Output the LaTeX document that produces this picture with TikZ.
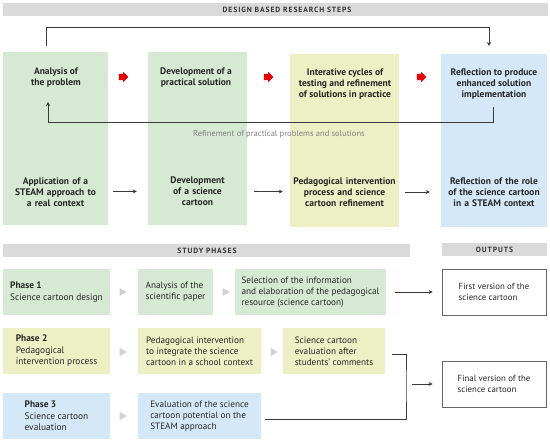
\documentclass[tikz,border=0pt]{standalone}
\usepackage{fontspec}
\setmainfont{PT Sans}
\usetikzlibrary{positioning,arrows.meta,shapes.arrows,shapes.geometric}
\definecolor{cgreen}{HTML}{D6EAD3}
\definecolor{cyellow}{HTML}{EDF0C4}
\definecolor{cblue}{HTML}{D5E8F8}
\definecolor{cbar}{HTML}{DADADA}
\definecolor{cline}{HTML}{3A3A3A}

\begin{document}
\begin{tikzpicture}[x=1pt, y=-1pt,
  bar/.style={fill=cbar, inner sep=0, minimum height=13},
  bartext/.style={inner sep=0, font=\fontsize{7.6}{8}\selectfont\bfseries\addfontfeatures{LetterSpace=12}\color{black!80}},
  col/.style={inner sep=0, minimum width=#1, minimum height=173},
  head/.style={align=center, inner sep=0, font=\fontsize{9.5}{11}\selectfont\bfseries\color{black!85}},
  redarrow/.style={single arrow, fill=red!90!black, draw=none, inner sep=3pt, minimum height=9, single arrow head extend=2pt},
  phase/.style={inner sep=0, minimum height=46, minimum width=#1, align=left, font=\fontsize{9.4}{11.5}\selectfont\color{black!85}},
  step/.style={inner sep=0, minimum height=46, minimum width=#1, align=left, font=\fontsize{9.2}{11}\selectfont\color{black!85}},
  output/.style={draw=black!60, line width=0.9pt, fill=white, inner sep=0, minimum height=46, minimum width=104, align=left, font=\fontsize{8.8}{11}\selectfont\color{black!85}},
  tri/.style={isosceles triangle, fill=black!18, inner sep=0, minimum height=7, minimum width=8, isosceles triangle stretches},
  line/.style={draw=cline, line width=0.8pt},
  arr/.style={line, -{Stealth[length=4pt, width=4pt]}}
]
\useasboundingbox (0,0) rectangle (550,443);

% design based research steps
\node[bar, minimum width=545] (bar1) at (275.5,10) {};
\node[bartext] (bar1t) at (287,10) {DESIGN BASED RESEARCH STEPS};

\node[col=105, fill=cgreen] (c1) at (55.5,138.5) {};
\node[col=99, fill=cgreen] (c2) at (197.5,138.5) {};
\node[col=109, fill=cyellow] (c3) at (344.5,140.5) {};
\node[col=106, fill=cblue] (c4) at (494,140.5) {};

\node[head] (h1) at (56,77.5) {Analysis of\\the problem};
\node[head] (h2) at (196,77.5) {Development of a\\practical solution};
\node[head] (h3) at (345,84) {Interative cycles of\\testing and refinement\\of solutions in practice};
\node[head] (h4) at (494,84) {Reflection to produce\\enhanced solution\\implementation};

\node[redarrow] (r1) at (122,77) {};
\node[redarrow] (r2) at (267,77) {};
\node[redarrow] (r3) at (420,77) {};

\coordinate (topL) at (46,46);
\coordinate (topR) at (489,46);
\draw[arr] (topL) -- (46,27) -| (topR);

\coordinate (fbR) at (493,107);
\coordinate (fbL) at (48,102);
\draw[arr] (fbR) -- ++(0,15) -| (fbL);
\node[font=\fontsize{8.5}{10}\selectfont, text=black!50] (fbt) at (279,134) {Refinement of practical problems and solutions};

\node[head, text width=105] (b1) at (55.5,192) {Application of a\\STEAM approach to\\a real context};
\node[head, text width=99] (b2) at (197.5,191) {Development\\of a science\\cartoon};
\node[head, text width=109] (b3) at (344.5,192) {Pedagogical intervention\\process and science\\cartoon refinement};
\node[head, text width=106] (b4) at (494,192) {Reflection of the role\\of the science cartoon\\in a STEAM context};
\draw[arr, shorten <=5pt, shorten >=11pt] (b1) -- (b2);
\draw[arr, shorten <=7pt, shorten >=7pt] (b2) -- (b3);
\draw[arr, shorten <=6pt, shorten >=11pt] (b3) -- (b4);

% study phases
\node[bar, minimum width=407] (bar2) at (206.5,251) {};
\node[bartext] (bar2t) at (207,251) {STUDY PHASES};
\node[bar, minimum width=105] (bar3) at (494.5,250) {};
\node[bartext] (bar3t) at (494.5,250) {OUTPUTS};

% phase 1
\node[phase=107, fill=cgreen] (p1) at (56.5,292) {\textbf{Phase 1}\\Science cartoon design};
\node[tri] (g1) at (122,292) {};
\node[step=75, fill=cgreen] (s1) at (175.5,292) {Analysis of the\\scientific paper};
\node[tri] (g2) at (225,292) {};
\node[step=151, fill=cgreen] (s2) at (310.5,292) {Selection of the information\\and elaboration of the pedagogical\\resource (science cartoon)};
\node[output] (o1) at (494,292) {First version of the\\science cartoon};
\draw[arr, shorten <=9pt, shorten >=9pt] (s2) -- (o1);

% phase 2
\node[phase=107, fill=cyellow] (p2) at (56.5,351) {\textbf{Phase 2}\\Pedagogical\\intervention process};
\node[tri] (g3) at (122,352) {};
\node[step=123, fill=cyellow] (s3) at (199.5,351) {Pedagogical intervention\\to integrate the science\\cartoon in a school context};
\node[tri] (g4) at (273,352) {};
\node[step=102, fill=cyellow] (s4) at (334,351) {Science cartoon\\evaluation after\\students' comments};

% phase 3
\node[phase=107, fill=cblue] (p3) at (56.5,416) {\textbf{Phase 3}\\Science cartoon\\evaluation};
\node[tri] (g5) at (122,416) {};
\node[step=123, fill=cblue] (s5) at (199.5,416) {Evaluation of the science\\cartoon potential on the\\STEAM approach};

\node[output] (o2) at (494,384) {Final version of the\\science cartoon};
\coordinate (brk) at (406,384);
\draw[line] ([xshift=7pt,yshift=-3pt]s4.east) -| (brk) |- ([xshift=4pt,yshift=-3pt]s5.east);
\draw[arr, shorten <=6pt, shorten >=9pt] (brk) -- (o2);
\end{tikzpicture}
\end{document}
